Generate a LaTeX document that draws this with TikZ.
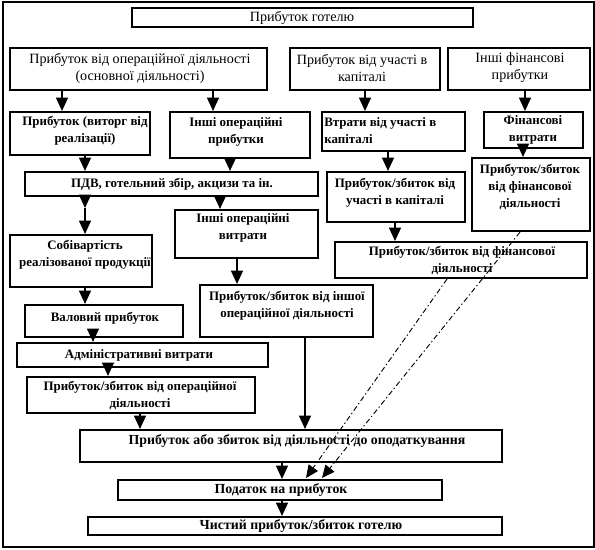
\documentclass[tikz,border=0pt]{standalone}
\usepackage{fontspec}
\setmainfont{Liberation Serif}
\usetikzlibrary{arrows.meta}
\newcommand\mybox[5]{\node[box, minimum width={(#4-#2)*0.75pt}, minimum height={(#5-#3)*0.75pt}] (#1) at ({(#2+#4)/2},{(#3+#5)/2}) {};}
\begin{document}
\begin{tikzpicture}[x=0.75pt,y=-0.75pt,
 box/.style={draw, line width=1.6pt, inner sep=0pt},
 txt/.style={font=\fontsize{9.7}{12.75}\selectfont\bfseries, align=center, inner sep=0pt},
 txtb/.style={font=\fontsize{10.4}{12.75}\selectfont\bfseries, align=center, inner sep=0pt},
 txtr/.style={font=\fontsize{10.6}{12.75}\selectfont, align=center, inner sep=0pt},
 arr/.style={line width=1.1pt, -{Triangle[width=9pt,length=10pt]}},
 dsh/.style={line width=0.7pt, dash pattern=on 4pt off 2pt on 1pt off 2pt, -{Triangle[width=8.5pt,length=9.5pt]}}]
\useasboundingbox (0,0) rectangle (595,549);
\draw[line width=1.2pt] (3,2) rectangle (594,547);
% boxes
\mybox{title}{132}{8}{473}{27}
\mybox{opd}{10}{48}{267}{90}
\mybox{uch}{290}{48}{440}{90}
\mybox{inf}{448}{48}{590}{90}
\mybox{vyt}{10}{112}{150}{155}
\mybox{iop}{170}{112}{310}{158}
\mybox{vtr}{322}{112}{465}{151}
\mybox{fv}{484}{112}{583}{148}
\mybox{pdv}{25}{172}{318}{196}
\mybox{pzuch}{327}{172}{465}{222}
\mybox{pzfinr}{472}{158}{590}{231}
\mybox{bigfin}{335}{242}{587}{278}
\mybox{sob}{10}{235}{152}{287}
\mybox{iov}{175}{210}{318}{258}
\mybox{val}{25}{305}{183}{337}
\mybox{pzio}{200}{285}{373}{337}
\mybox{adm}{17}{343}{268}{367}
\mybox{pzop}{27}{377}{255}{413}
\mybox{dopod}{80}{430}{502}{462}
\mybox{pod}{118}{480}{442}{500}
\mybox{chyst}{88}{517}{502}{535}
% texts
\node[txtr] (t-title) at (302,18) {Прибуток готелю};
\node[txtr] (t-opd) at (140,68) {Прибуток від операційної діяльності\\(основної діяльності)};
\node[txtr] (t-uch) at (362,68) {Прибуток від участі в\\капіталі};
\node[txtr] (t-inf) at (520,68) {Інші фінансові\\прибутки};
\node[txt] (t-vyt) at (85,131) {Прибуток (виторг від\\реалізації)};
\node[txt] (t-iop) at (236,132) {Інші операційні\\прибутки};
\node[txt, anchor=west, align=left] (t-vtr) at (324,131) {Втрати від участі в\\капіталі};
\node[txt] (t-fv) at (533,130) {Фінансові\\витрати};
\node[txt] (t-pdv) at (172,184) {ПДВ, готельний збір, акцизи та ін.};
\node[txt] (t-pzuch) at (395,193) {Прибуток/збиток від\\участі в капіталі};
\node[txt] (t-pzfinr) at (530,187) {Прибуток/збиток\\від фінансової\\діяльності};
\node[txt] (t-bigfin) at (462,260) {Прибуток/збиток від фінансової\\діяльності};
\node[txt] (t-sob) at (85,255) {Собівартість\\реалізованої продукції};
\node[txt] (t-iov) at (243,228) {Інші операційні\\витрати};
\node[txt] (t-val) at (105,318) {Валовий прибуток};
\node[txt] (t-pzio) at (287,306) {Прибуток/збиток від іншої\\операційної діяльності};
\node[txt] (t-adm) at (139,355) {Адміністративні витрати};
\node[txt] (t-pzop) at (140,395) {Прибуток/збиток від операційної\\діяльності};
\node[txtb] (t-dopod) at (297,441) {Прибуток або збиток від діяльності до оподаткування};
\node[txtb] (t-pod) at (281,490) {Податок на прибуток};
\node[txtb] (t-chyst) at (301,526) {Чистий прибуток/збиток готелю};
% arrows
\draw[arr] (opd.south -| 62,0) -- (vyt.north -| 62,0);
\draw[arr] (opd.south -| 213,0) -- (iop.north -| 213,0);
\draw[arr] (uch.south -| 365,0) -- (vtr.north -| 365,0);
\draw[arr] (inf.south -| 525,0) -- (fv.north -| 525,0);
\draw[arr] (vyt.south -| 85,0) -- (pdv.north -| 85,0);
\draw[arr] (iop.south -| 230,0) -- (pdv.north -| 230,0);
\draw[arr] (vtr.south -| 388,0) -- (pzuch.north -| 388,0);
\draw[arr] (fv.south -| 523,0) -- (pzfinr.north -| 523,0);
\coordinate (c1) at (85,208);
\draw[arr] (pdv.south -| 85,0) -- (c1);
\draw[arr] (c1) -- (sob.north -| 85,0);
\draw[arr] (pdv.south -| 220,0) -- (iov.north -| 220,0);
\draw[arr] (sob.south -| 85,0) -- (val.north -| 85,0);
\draw[arr] (iov.south -| 237,0) -- (pzio.north -| 237,0);
\draw[arr] (pzuch.south -| 395,0) -- (bigfin.north -| 395,0);
\draw[arr] (val.south -| 93,0) -- (adm.north -| 93,0);
\draw[arr] (adm.south -| 108,0) -- (pzop.north -| 108,0);
\draw[arr] (pzop.south -| 140,0) -- (dopod.north -| 140,0);
\draw[arr] (pzio.south -| 305,0) -- (dopod.north -| 305,0);
\draw[arr] (dopod.south -| 282,0) -- (pod.north -| 282,0);
\draw[arr] (pod.south -| 282,0) -- (chyst.north -| 282,0);
\coordinate (d1) at (322,478);
\coordinate (d2) at (306,478);
\draw[dsh] (pzfinr.south -| 520,0) -- (d1);
\draw[dsh] (bigfin.south -| 447,0) -- (d2);
\end{tikzpicture}
\end{document}
